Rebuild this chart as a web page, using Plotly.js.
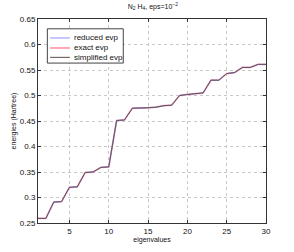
<!DOCTYPE html>
<html><head><meta charset="utf-8">
<script src="https://cdn.plot.ly/plotly-3.0.1.min.js"></script>
<style>html,body{margin:0;padding:0;background:#fff}#c{width:294px;height:252px}</style>
</head><body><div id="c"></div>
<script>
const eigIndex = [1,2,3,4,5,6,7,8,9,10,11,12,13,14,15,16,17,18,19,20,21,22,23,24,25,26,27,28,29,30];
const reducedEvp = [0.259,0.259,0.291,0.292,0.320,0.321,0.349,0.350,0.359,0.360,0.451,0.452,0.475,0.475,0.476,0.477,0.480,0.481,0.500,0.502,0.503,0.505,0.530,0.530,0.543,0.545,0.555,0.555,0.561,0.561];
const exactEvp = [0.259,0.259,0.291,0.292,0.320,0.321,0.349,0.350,0.359,0.360,0.451,0.452,0.475,0.475,0.476,0.477,0.480,0.481,0.500,0.502,0.503,0.505,0.530,0.530,0.543,0.545,0.555,0.555,0.561,0.561];
const simplifiedEvp = [0.259,0.259,0.291,0.292,0.320,0.321,0.349,0.350,0.359,0.360,0.451,0.452,0.475,0.475,0.476,0.477,0.480,0.481,0.500,0.502,0.503,0.505,0.530,0.530,0.543,0.545,0.555,0.555,0.561,0.561];
const seriesNames = ['reduced evp', 'exact evp', 'simplified evp'];
const yTicks = [0.25,0.3,0.35,0.4,0.45,0.5,0.55,0.6,0.65];
const yTickText = ['0.25','0.3','0.35','0.4','0.45','0.5','0.55','0.6','0.65'];
const xTicks = [5,10,15,20,25,30];

const FONT = 'Liberation Sans, Arial, sans-serif';
const lineStyles = [
  {color: '#8c8cff', width: 1},
  {color: '#ffa8b4', width: 1.8},
  {color: '#5a4c4c', width: 0.9}
];
const seriesData = [reducedEvp, exactEvp, simplifiedEvp];
const traces = seriesData.map((ys, i) => ({
  x: eigIndex, y: ys, name: seriesNames[i], mode: 'lines', line: lineStyles[i], showlegend: false
}));
// order: exact underneath, then reduced, then simplified on top
const drawOrder = [traces[1], traces[0], traces[2]];

const axisCommon = {
  showline: true, mirror: 'ticks', linecolor: '#333', linewidth: 1,
  ticks: 'inside', ticklen: 3, tickcolor: '#333',
  showgrid: true, gridcolor: '#c8c8c8', griddash: 'dot', gridwidth: 1,
  zeroline: false, tickfont: {family: FONT, size: 8, color: '#111'}
};

// custom compact legend (paper coordinates)
const legBox = {x0: 0.041, x1: 0.374, y0: 0.784, y1: 0.952};
const legRows = [0.907, 0.858, 0.812];
const shapes = [{type: 'rect', xref: 'paper', yref: 'paper', x0: legBox.x0, x1: legBox.x1, y0: legBox.y0, y1: legBox.y1,
  line: {color: '#444', width: 1}, fillcolor: '#fff', layer: 'above'}];
const annotations = [];
seriesNames.forEach((nm, i) => {
  shapes.push({type: 'line', xref: 'paper', yref: 'paper', x0: 0.053, x1: 0.140, y0: legRows[i], y1: legRows[i],
    line: {color: lineStyles[i].color, width: i === 1 ? 2 : 1}, layer: 'above'});
  annotations.push({xref: 'paper', yref: 'paper', x: 0.147, y: legRows[i], xanchor: 'left', yanchor: 'middle',
    text: nm, showarrow: false, font: {family: FONT, size: 8, color: '#111'}});
});

const layout = {
  width: 294, height: 252,
  margin: {l: 38, r: 28, t: 19, b: 29},
  paper_bgcolor: '#fff', plot_bgcolor: '#fff',
  title: {text: 'N<sub>2</sub> H<sub>4</sub>, eps=10<sup>\u22122</sup>', font: {family: FONT, size: 7, color: '#111'}, x: 0.52, xanchor: 'center', y: 0.985, yanchor: 'top'},
  xaxis: Object.assign({}, axisCommon, {range: [1, 30], tickvals: xTicks, ticktext: xTicks.map(String),
    title: {text: 'eigenvalues', font: {family: FONT, size: 7, color: '#111'}, standoff: 1}}),
  yaxis: Object.assign({}, axisCommon, {range: [0.25, 0.65], tickvals: yTicks, ticktext: yTickText,
    title: {text: 'energies (Hartree)', font: {family: FONT, size: 7, color: '#111'}, standoff: 2}}),
  showlegend: false,
  shapes: shapes,
  annotations: annotations
};
Plotly.newPlot('c', drawOrder, layout, {staticPlot: true, displayModeBar: false});
</script>
</body></html>
